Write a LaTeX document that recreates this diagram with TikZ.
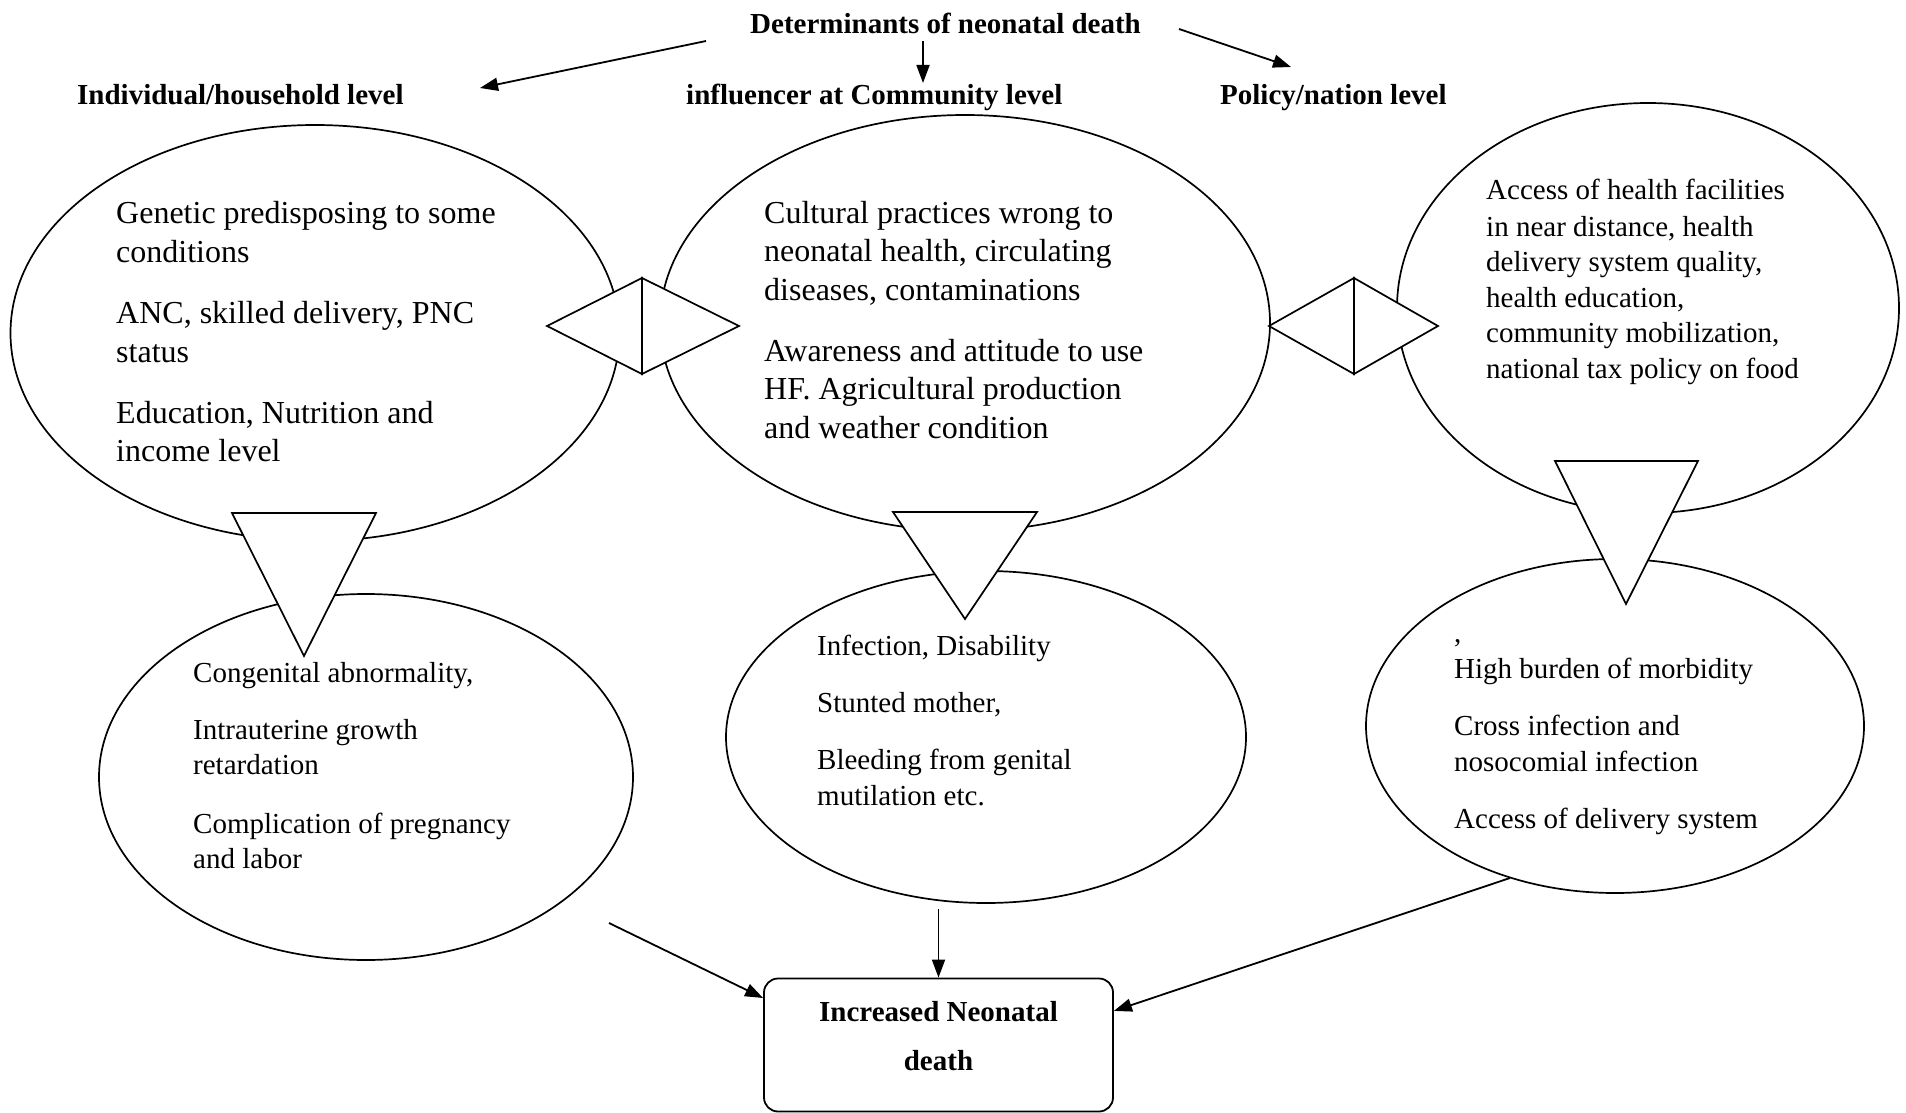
\documentclass[tikz,border=0pt]{standalone}
\usepackage{fontspec}
\setmainfont{Liberation Serif}
\usetikzlibrary{shapes.geometric,arrows.meta}
\tikzset{
  ell/.style={draw, ellipse, line width=1.7pt, inner sep=0pt},
  tri/.style={draw, fill=white, line width=1.7pt, line join=miter},
  arr/.style={line width=1.8pt, -{Triangle[length=18pt,width=13pt]}},
  big/.style={font=\fontsize{32}{39}\selectfont, anchor=base west, inner sep=0pt},
  small/.style={font=\fontsize{29}{36}\selectfont, anchor=base west, inner sep=0pt},
  head/.style={font=\fontsize{29}{36}\selectfont\bfseries, anchor=base west, inner sep=0pt},
  outbox/.style={draw, line width=1.8pt, rounded corners=14pt, minimum width=349pt, minimum height=133pt, inner sep=0pt},
}
\begin{document}
\begin{tikzpicture}[x=1pt,y=-1pt]
\useasboundingbox (0,0) rectangle (1906,1113);

% headings
\node[head] (title) at (750,34) {Determinants of neonatal death};
\node[head] (h1) at (77,105) {Individual/household level};
\node[head] (h2) at (686,105) {influencer at Community level};
\node[head] (h3) at (1220,105) {Policy/nation level};

\coordinate (a1s) at (706,41);  \coordinate (a1e) at (480,88);
\coordinate (a2s) at (923,41);  \coordinate (a2e) at (923,83);
\coordinate (a3s) at (1179,29); \coordinate (a3e) at (1291,67);
\draw[arr] (a1s) -- (a1e);
\draw[arr] (a2s) -- (a2e);
\draw[arr] (a3s) -- (a3e);

% ellipses
\node[ell, minimum width=609pt, minimum height=416pt] (e1) at (315,333) {};
\node[ell, minimum width=610pt, minimum height=416pt] (e2) at (965,323) {};
\node[ell, minimum width=502pt, minimum height=410pt] (e3) at (1648,308) {};
\node[ell, minimum width=534pt, minimum height=366pt] (e4) at (366,777) {};
\node[ell, minimum width=520pt, minimum height=332pt] (e5) at (986,737) {};
\node[ell, minimum width=498pt, minimum height=334pt] (e6) at (1615,726) {};

% diamonds (two triangles each)
\draw[tri] (547,326) -- (642,278) -- (642,374) -- cycle;
\draw[tri] (642,278) -- (739,326) -- (642,374) -- cycle;
\draw[tri] (1269,326) -- (1354,278) -- (1354,374) -- cycle;
\draw[tri] (1354,278) -- (1438,326) -- (1354,374) -- cycle;

% downward triangles
\draw[tri] (232,513) -- (376,513) -- (304,656) -- cycle;
\draw[tri] (893,512) -- (1037,512) -- (965,619) -- cycle;
\draw[tri] (1555,461) -- (1698,461) -- (1626,604) -- cycle;

% text E1
\node[big] (t1a) at (116,223) {Genetic predisposing to some};
\node[big] (t1b) at (116,262) {conditions};
\node[big] (t1c) at (116,323) {ANC, skilled delivery, PNC};
\node[big] (t1d) at (116,362) {status};
\node[big] (t1e) at (116,423) {Education, Nutrition and};
\node[big] (t1f) at (116,461) {income level};

% text E2
\node[big] (t2a) at (764,223) {Cultural practices wrong to};
\node[big] (t2b) at (764,261) {neonatal health, circulating};
\node[big] (t2c) at (764,300) {diseases, contaminations};
\node[big] (t2d) at (764,361) {Awareness and attitude to use};
\node[big] (t2e) at (764,399) {HF. Agricultural production};
\node[big] (t2f) at (764,438) {and weather condition};

% text E3
\node[small] (t3a) at (1486,199) {Access of health facilities};
\node[small] (t3b) at (1486,236) {in near distance, health};
\node[small] (t3c) at (1486,271) {delivery system quality,};
\node[small] (t3d) at (1486,307) {health education,};
\node[small] (t3e) at (1486,342) {community mobilization,};
\node[small] (t3f) at (1486,378) {national tax policy on food};

% text E4
\node[small] (t4a) at (193,682) {Congenital abnormality,};
\node[small] (t4b) at (193,739) {Intrauterine growth};
\node[small] (t4c) at (193,774) {retardation};
\node[small] (t4d) at (193,833) {Complication of pregnancy};
\node[small] (t4e) at (193,868) {and labor};

% text E5
\node[small] (t5a) at (817,655) {Infection, Disability};
\node[small] (t5b) at (817,712) {Stunted mother,};
\node[small] (t5c) at (817,769) {Bleeding from genital};
\node[small] (t5d) at (817,805) {mutilation etc.};

% text E6
\node[small] (t6a) at (1454,642) {,};
\node[small] (t6b) at (1454,678) {High burden of morbidity};
\node[small] (t6c) at (1454,735) {Cross infection and};
\node[small] (t6d) at (1454,771) {nosocomial infection};
\node[small] (t6e) at (1454,828) {Access of delivery system};

% outcome box
\node[outbox] (box) at (938.5,1045) {};
\node[head, anchor=base] (bt1) at (938.5,1021) {Increased Neonatal};
\node[head, anchor=base] (bt2) at (938.5,1070) {death};

\coordinate (b1s) at (609,923);
\coordinate (b2s) at (938.5,909);
\coordinate (b3s) at (1510,878);
\draw[arr] (b1s) -- (box.165);
\draw[arr] (b2s) -- (box.north);
\draw[arr] (b3s) -- (box.11);
\end{tikzpicture}
\end{document}
